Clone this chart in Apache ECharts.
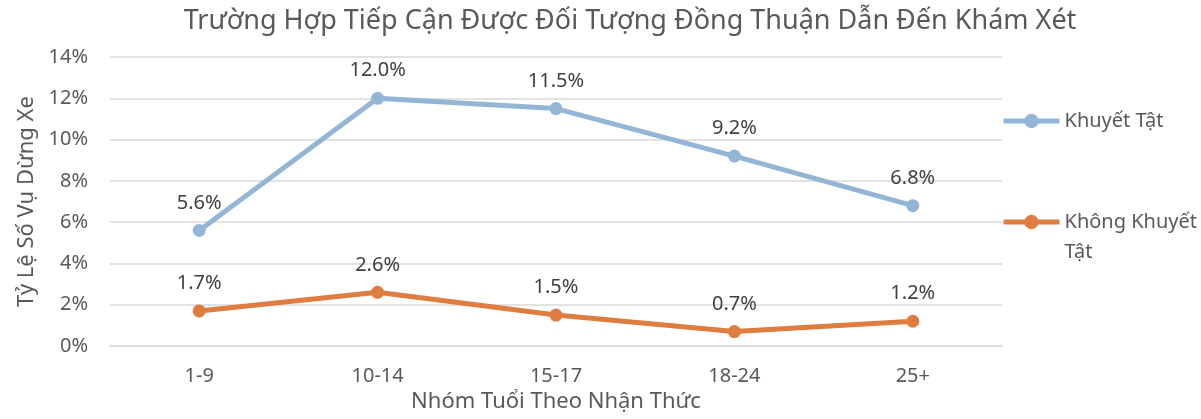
<!DOCTYPE html>
<html>
<head>
<meta charset="utf-8">
<script src="https://cdn.jsdelivr.net/npm/echarts@6/dist/echarts.min.js"></script>
<style>
  html, body { margin: 0; padding: 0; background: #fff; }
  #chart { width: 1201px; height: 419px; }
</style>
</head>
<body>
<div id="chart"></div>
<script>
var ageGroups = ['1-9', '10-14', '15-17', '18-24', '25+'];
var disabledRates = [5.6, 12.0, 11.5, 9.2, 6.8];
var nonDisabledRates = [1.7, 2.6, 1.5, 0.7, 1.2];
var seriesNames = ['Khuyết Tật', 'Không Khuyết Tật'];

var font = '"Noto Sans", sans-serif';
var grey = '#595959';

var chart = echarts.init(document.getElementById('chart'));
var option = {
  animation: false,
  textStyle: { fontFamily: font },
  title: {
    text: 'Trường Hợp Tiếp Cận Được Đối Tượng Đồng Thuận Dẫn Đến Khám Xét',
    left: 625,
    textAlign: 'center',
    top: 3,
    textStyle: { fontFamily: font, fontSize: 27, fontWeight: 'normal', color: grey }
  },
  legend: [
    {
      data: [seriesNames[0]],
      left: 1001,
      top: 106,
      padding: 0,
      itemWidth: 56,
      itemHeight: 18,
      itemGap: 0,
      lineStyle: { width: 5 },
      textStyle: { fontFamily: font, fontSize: 20, color: grey, lineHeight: 30 }
    },
    {
      data: [seriesNames[1]],
      left: 1001,
      top: 177,
      padding: 0,
      itemWidth: 56,
      itemHeight: 18,
      lineStyle: { width: 5 },
      formatter: function (name) { return ' \nKhông Khuyết\nTật'; },
      textStyle: { fontFamily: font, fontSize: 20, color: grey, lineHeight: 30 }
    }
  ],
  grid: { left: 110, right: 199, top: 57, bottom: 73 },
  xAxis: {
    type: 'category',
    data: ageGroups,
    name: 'Nhóm Tuổi Theo Nhận Thức',
    nameLocation: 'middle',
    nameGap: 45,
    nameTextStyle: { fontFamily: font, fontSize: 22, color: grey },
    axisLine: { lineStyle: { color: '#d9d9d9', width: 1.5 } },
    axisTick: { show: false },
    axisLabel: { margin: 20, fontFamily: font, fontSize: 20, color: grey }
  },
  yAxis: {
    type: 'value',
    min: 0,
    max: 14,
    interval: 2,
    name: 'Tỷ Lệ Số Vụ Dừng Xe',
    nameLocation: 'middle',
    nameGap: 65,
    nameTextStyle: { fontFamily: font, fontSize: 22, color: grey },
    axisLine: { show: false },
    axisTick: { show: false },
    axisLabel: { margin: 22, fontFamily: font, fontSize: 20, color: grey, formatter: '{value}%' },
    splitLine: { lineStyle: { color: '#d9d9d9', width: 1.5 } }
  },
  series: [
    {
      name: seriesNames[0],
      type: 'line',
      data: disabledRates,
      symbol: 'circle',
      symbolSize: 13,
      lineStyle: { color: '#93b6d6', width: 5 },
      itemStyle: { color: '#93b6d6' },
      label: {
        show: true,
        position: 'top',
        distance: 11,
        fontFamily: font,
        fontSize: 20,
        color: '#404040',
        formatter: function (p) { return p.value.toFixed(1) + '%'; }
      }
    },
    {
      name: seriesNames[1],
      type: 'line',
      data: nonDisabledRates,
      symbol: 'circle',
      symbolSize: 13,
      lineStyle: { color: '#df7c40', width: 5 },
      itemStyle: { color: '#df7c40' },
      label: {
        show: true,
        position: 'top',
        distance: 11,
        fontFamily: font,
        fontSize: 20,
        color: '#404040',
        formatter: function (p) { return p.value.toFixed(1) + '%'; }
      }
    }
  ]
};
chart.setOption(option);
</script>
</body>
</html>
